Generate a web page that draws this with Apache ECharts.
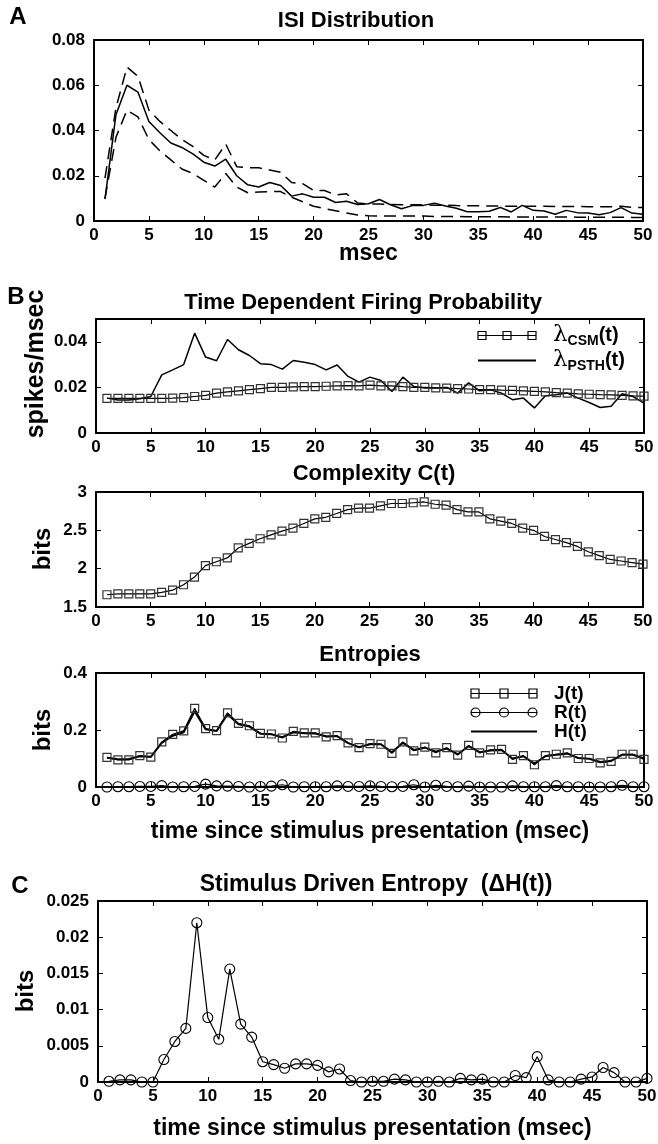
<!DOCTYPE html>
<html><head><meta charset="utf-8">
<script src="https://cdn.jsdelivr.net/npm/echarts@6/dist/echarts.min.js"></script>
<style>html,body{margin:0;padding:0;background:#fff}#c{width:658px;height:1144px}</style>
</head><body><div id="c"></div><script>
// ---------- data ----------
const T = [1,2,3,4,5,6,7,8,9,10,11,12,13,14,15,16,17,18,19,20,21,22,23,24,25,26,27,28,29,30,31,32,33,34,35,36,37,38,39,40,41,42,43,44,45,46,47,48,49,50];

// Panel A: ISI distribution (mean and bounds)
const isiMean = [0.0097,0.047,0.060,0.057,0.044,0.039,0.0345,0.0325,0.0297,0.026,0.0243,0.0273,0.020,0.016,0.015,0.017,0.0157,0.011,0.012,0.0105,0.0105,0.0082,0.0087,0.0073,0.0076,0.0095,0.0072,0.0054,0.0068,0.0069,0.0079,0.0066,0.0056,0.0041,0.0041,0.0043,0.006,0.004,0.0069,0.0047,0.0044,0.003,0.0047,0.0037,0.0035,0.0028,0.0037,0.0059,0.0035,0.003];
const isiUpper = [0.019,0.050,0.068,0.064,0.049,0.044,0.040,0.036,0.033,0.029,0.027,0.034,0.024,0.0235,0.0235,0.0225,0.0215,0.017,0.0165,0.0135,0.0135,0.0115,0.012,0.008,0.0075,0.0075,0.0073,0.0072,0.0072,0.0072,0.007,0.007,0.0068,0.0067,0.0067,0.0066,0.0066,0.0065,0.0065,0.0065,0.0065,0.0064,0.0064,0.0064,0.0063,0.0063,0.0063,0.0065,0.006,0.006];
const isiLower = [0.010,0.037,0.049,0.046,0.036,0.031,0.027,0.023,0.021,0.018,0.015,0.021,0.015,0.0125,0.0128,0.013,0.013,0.0105,0.0085,0.0065,0.0055,0.0045,0.0035,0.0027,0.0023,0.0022,0.0022,0.0022,0.0022,0.0022,0.002,0.002,0.002,0.0019,0.0019,0.0019,0.0019,0.0018,0.0018,0.0018,0.0018,0.0018,0.0018,0.0017,0.0017,0.0017,0.0017,0.0017,0.0016,0.0016];

// Panel B: firing probability
const lamCSM = [0.0152,0.0152,0.0152,0.0152,0.0152,0.0152,0.0153,0.0155,0.016,0.0165,0.0175,0.018,0.0185,0.019,0.0195,0.02,0.02,0.0202,0.0203,0.0203,0.0205,0.0207,0.0208,0.0207,0.021,0.0207,0.0207,0.0203,0.02,0.02,0.0198,0.0197,0.0195,0.0193,0.019,0.019,0.0188,0.0187,0.0185,0.0183,0.018,0.0177,0.0175,0.0172,0.017,0.0168,0.0167,0.0165,0.0163,0.0162];
const lamPSTH = [0.0153,0.0145,0.0145,0.015,0.016,0.0255,0.0277,0.030,0.0438,0.0333,0.0317,0.041,0.0365,0.034,0.0304,0.030,0.028,0.0318,0.031,0.030,0.0277,0.0298,0.0248,0.0223,0.0245,0.023,0.0182,0.0245,0.0204,0.0197,0.0197,0.020,0.0175,0.022,0.0185,0.019,0.0175,0.0146,0.0153,0.011,0.0163,0.0168,0.0175,0.0153,0.0134,0.0112,0.0117,0.0172,0.016,0.0131];

// Complexity C(t)
const complexity = [1.66,1.67,1.67,1.67,1.67,1.69,1.72,1.79,1.89,2.04,2.09,2.14,2.27,2.33,2.39,2.44,2.49,2.53,2.59,2.65,2.67,2.72,2.77,2.79,2.79,2.82,2.85,2.85,2.86,2.87,2.84,2.83,2.77,2.74,2.74,2.65,2.62,2.59,2.53,2.5,2.42,2.38,2.34,2.29,2.22,2.17,2.12,2.1,2.08,2.06];

// Entropies
const entJ = [0.104,0.095,0.095,0.110,0.105,0.158,0.185,0.197,0.276,0.205,0.198,0.260,0.223,0.215,0.188,0.186,0.172,0.195,0.190,0.190,0.176,0.180,0.155,0.138,0.152,0.150,0.118,0.158,0.127,0.140,0.120,0.138,0.112,0.146,0.120,0.130,0.132,0.097,0.110,0.078,0.110,0.115,0.120,0.100,0.100,0.085,0.090,0.115,0.115,0.097];
const entR = [0,0.001,0.001,0.002,0.002,0.005,0,0.001,0.002,0.010,0.004,0.003,0.002,0,0.002,0.003,0.008,0,0.001,0.001,0.001,0.004,0.002,0.002,0.004,0.002,0.001,0.002,0.008,0,0.006,0.002,0.001,0.003,0,0,0,0.004,0.001,0.001,0.001,0.005,0.001,0.001,0,0,0.001,0.006,0.001,0.001];
const entH = [0.103,0.097,0.098,0.108,0.106,0.155,0.180,0.192,0.266,0.203,0.196,0.255,0.220,0.212,0.187,0.185,0.175,0.192,0.189,0.188,0.178,0.178,0.154,0.140,0.150,0.150,0.122,0.155,0.130,0.138,0.124,0.135,0.115,0.143,0.122,0.128,0.130,0.100,0.108,0.082,0.108,0.113,0.117,0.102,0.099,0.088,0.092,0.113,0.113,0.100];

// Panel C: stimulus driven entropy
const deltaH = [0.0001,0.0003,0.0003,0,0,0.0031,0.0056,0.0074,0.022,0.0089,0.0059,0.0156,0.008,0.0062,0.0028,0.0024,0.0019,0.0025,0.0025,0.0023,0.0014,0.0018,0.0002,0,0.0001,0.0001,0.0004,0.0003,0,0,0.0001,0,0.0005,0.0003,0.0004,0,0,0.0009,0.0006,0.0035,0.0003,0,0,0.0004,0.0007,0.002,0.0013,0,0,0.0005];

// ---------- layout ----------
const FONT = '"Liberation Sans", Arial, Helvetica, sans-serif';
const XLABEL = 'time since stimulus presentation (msec)';
const grids = [
  {left:94, top:40, width:549, height:181},
  {left:96, top:319, width:548, height:114},
  {left:96, top:492, width:547, height:115},
  {left:96, top:673, width:548, height:114},
  {left:98, top:901, width:549, height:181}
];
const yCfg = [
  {min:0, max:0.08, interval:0.02},
  {min:0, max:0.05, interval:0.02, hideMax:true},
  {min:1.5, max:3, interval:0.5},
  {min:0, max:0.4, interval:0.2},
  {min:0, max:0.025, interval:0.005}
];
const xNames = [{n:'msec', gap:21, s:23}, {n:'', gap:0, s:23}, {n:'', gap:0, s:23}, {n:XLABEL, gap:33, s:23}, {n:XLABEL, gap:35, s:23}];

const axisLine = {show:true, onZero:false, lineStyle:{color:'#000', width:2}};
const tick = {show:true, inside:true, length:5, lineStyle:{color:'#000', width:1}};
const labelStyle = {color:'#000', fontFamily:FONT, fontWeight:'bold', fontSize:17};

const xAxes = [], yAxes = [];
grids.forEach((g, i) => {
  xAxes.push({type:'value', gridIndex:i, position:'bottom', min:0, max:50, interval:5,
    axisLine, axisTick:tick, splitLine:{show:false},
    axisLabel:Object.assign({margin:6, showMinLabel:true, showMaxLabel:true}, labelStyle),
    name:xNames[i].n, nameLocation:'middle', nameGap:xNames[i].gap, nameMoveOverlap:false,
    nameTextStyle:{color:'#000', fontFamily:FONT, fontWeight:'bold', fontSize:xNames[i].s}});
  xAxes.push({type:'value', gridIndex:i, position:'top', min:0, max:50, interval:5,
    axisLine, axisTick:tick, splitLine:{show:false}, axisLabel:{show:false}});
  const c = yCfg[i];
  yAxes.push({type:'value', gridIndex:i, position:'left', min:c.min, max:c.max, interval:c.interval,
    axisLine, axisTick:tick, splitLine:{show:false},
    axisLabel:Object.assign({margin:9, formatter: v => (c.hideMax && Math.abs(v - c.max) < 1e-9) ? '' : String(+v.toFixed(4))}, labelStyle)});
  yAxes.push({type:'value', gridIndex:i, position:'right', min:c.min, max:c.max, interval:c.interval,
    axisLine, axisTick:tick, splitLine:{show:false}, axisLabel:{show:false}});
});

const pairs = ys => T.map((t, k) => [t, ys[k]]);
const clear = 'rgba(0,0,0,0)';
const solid = {color:'#000', width:1.5, type:'solid'};
const sq = {symbol:'rect', symbolSize:8, itemStyle:{color:clear, borderColor:'#333', borderWidth:1.2}};
const circ = {symbol:'circle', symbolSize:10, itemStyle:{color:clear, borderColor:'#000', borderWidth:1.1}};

const series = [
  {name:'isiMean', type:'line', xAxisIndex:0, yAxisIndex:0, data:pairs(isiMean), symbol:'none', lineStyle:solid},
  {name:'isiUpper', type:'line', xAxisIndex:0, yAxisIndex:0, data:pairs(isiUpper), symbol:'none', lineStyle:{color:'#000', width:1.5, type:[12,7]}},
  {name:'isiLower', type:'line', xAxisIndex:0, yAxisIndex:0, data:pairs(isiLower), symbol:'none', lineStyle:{color:'#000', width:1.5, type:[12,7]}},
  Object.assign({name:'CSM', type:'line', xAxisIndex:2, yAxisIndex:2, data:pairs(lamCSM), lineStyle:{color:'#000', width:1.2}}, sq),
  {name:'PSTH', type:'line', xAxisIndex:2, yAxisIndex:2, data:pairs(lamPSTH), symbol:'none', itemStyle:{color:clear}, lineStyle:solid},
  Object.assign({name:'C', type:'line', xAxisIndex:4, yAxisIndex:4, data:pairs(complexity), lineStyle:{color:'#000', width:1.2}}, sq),
  Object.assign({name:'J(t)', type:'line', xAxisIndex:6, yAxisIndex:6, data:pairs(entJ), lineStyle:{color:'#000', width:1.2}}, sq),
  Object.assign({name:'R(t)', type:'line', xAxisIndex:6, yAxisIndex:6, data:pairs(entR), clip:false, lineStyle:{color:'#000', width:1.2}}, circ),
  {name:'H(t)', type:'line', xAxisIndex:6, yAxisIndex:6, data:pairs(entH), symbol:'none', itemStyle:{color:clear}, lineStyle:{color:'#000', width:2}},
  Object.assign({name:'dH', type:'line', xAxisIndex:8, yAxisIndex:8, data:pairs(deltaH), clip:false, lineStyle:{color:'#000', width:1.2}}, circ)
];

// legend sample icons (line with three markers, as in the original key)
const sqIcon58 = 'path://M0,0L8,0L8,8L0,8Z M25,0L33,0L33,8L25,8Z M50,0L58,0L58,8L50,8Z M0,4L58,4';
const sqIcon66 = 'path://M0,0L8,0L8,8L0,8Z M29,0L37,0L37,8L29,8Z M58,0L66,0L66,8L58,8Z M0,4L66,4';
const ciIcon66 = 'path://M0,4.5A4.5,4.5 0 1 1 9,4.5A4.5,4.5 0 1 1 0,4.5Z M28.5,4.5A4.5,4.5 0 1 1 37.5,4.5A4.5,4.5 0 1 1 28.5,4.5Z M57,4.5A4.5,4.5 0 1 1 66,4.5A4.5,4.5 0 1 1 57,4.5Z M0,4.5L66,4.5';
const iconStyle = {color:clear, borderColor:'#000', borderWidth:1.2};

const txt = (x, y, text, size, rot) => ({type:'text', x, y, rotation: rot || 0,
  style:{text, font:'bold ' + size + 'px ' + FONT, fill:'#000', textAlign:'center', textVerticalAlign:'middle', align:'center', verticalAlign:'middle'}});

const option = {
  animation:false,
  backgroundColor:'#fff',
  grid: grids.map(g => Object.assign({outerBoundsMode:'none', containLabel:false, show:false}, g)),
  xAxis: xAxes,
  yAxis: yAxes,
  legend: [
    {data:[{name:'CSM', icon:sqIcon58, itemStyle:iconStyle}, 'PSTH'], orient:'vertical', left:477, top:323, padding:0,
     itemWidth:58, itemHeight:8, itemGap:0, symbolKeepAspect:false,
     formatter: n => n === 'CSM' ? '{l|λ}{s|CSM}{t|(t)}' : '{l|λ}{s|PSTH}{t|(t)}',
     textStyle:{color:'#000', fontFamily:FONT, fontWeight:'bold', fontSize:20, lineHeight:25, padding:[0,0,0,12],
       rich:{l:{fontFamily:'"DejaVu Serif", serif', fontSize:23, fontWeight:'normal', color:'#000', lineHeight:25},
             s:{fontFamily:FONT, fontSize:14, fontWeight:'bold', color:'#000', verticalAlign:'bottom', lineHeight:25, padding:[10,0,0,0]},
             t:{fontFamily:FONT, fontSize:20, fontWeight:'bold', color:'#000', lineHeight:25}}}},
    {data:[{name:'J(t)', icon:sqIcon66, itemStyle:iconStyle}, {name:'R(t)', icon:ciIcon66, itemStyle:iconStyle}, 'H(t)'],
     orient:'vertical', left:470, top:684, padding:0, itemWidth:66, itemHeight:9, itemGap:0, symbolKeepAspect:false,
     textStyle:{color:'#000', fontFamily:FONT, fontWeight:'bold', fontSize:19, lineHeight:19, padding:[0,0,0,12]}}
  ],
  graphic: [
    txt(18, 17, 'A', 24), txt(16, 297, 'B', 24), txt(20, 886, 'C', 24),
    txt(356, 21, 'ISI Distribution', 22),
    txt(363, 303, 'Time Dependent Firing Probability', 22),
    txt(374, 474, 'Complexity C(t)', 22),
    txt(370, 655, 'Entropies', 22),
    txt(376, 885, 'Stimulus Driven Entropy  (ΔH(t))', 23),
    txt(36, 364, 'spikes/msec', 25, Math.PI / 2),
    txt(43, 549, 'bits', 24, Math.PI / 2),
    txt(43, 730, 'bits', 24, Math.PI / 2),
    txt(26, 991, 'bits', 24, Math.PI / 2)
  ],
  series
};
const chart = echarts.init(document.getElementById('c'), null, {renderer:'canvas'});
chart.setOption(option);
</script></body></html>
